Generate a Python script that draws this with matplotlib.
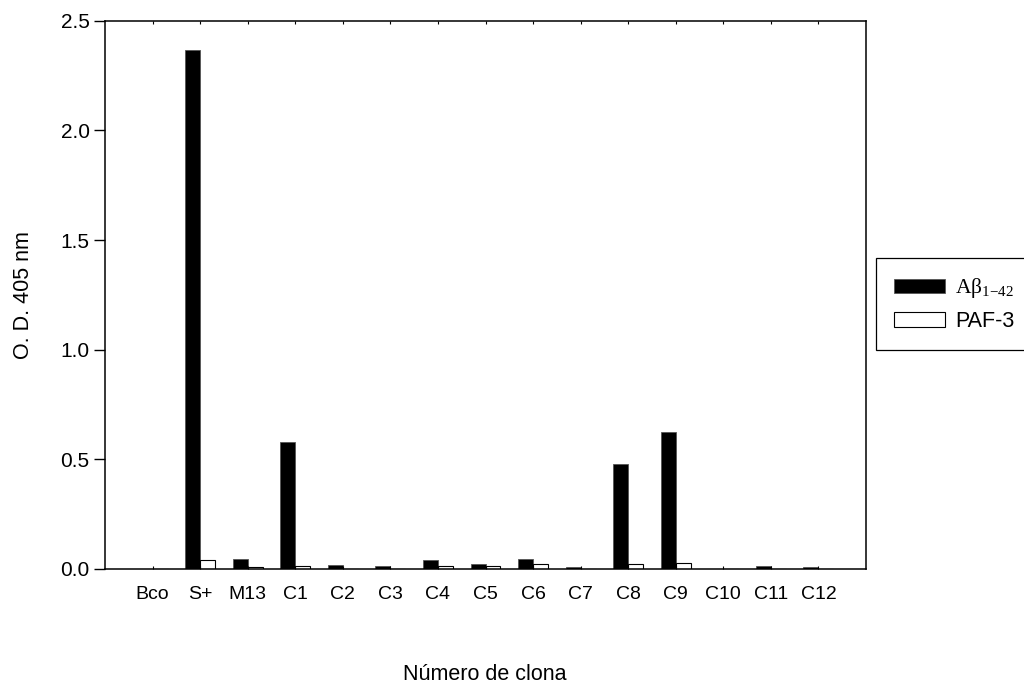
import matplotlib
matplotlib.use("Agg")
import matplotlib.pyplot as plt
import numpy as np

plt.rcParams['font.family'] = ['Liberation Sans', 'DejaVu Sans']
plt.rcParams['mathtext.fontset'] = 'custom'
plt.rcParams['mathtext.rm'] = 'Liberation Serif'
plt.rcParams['mathtext.it'] = 'Liberation Serif:italic'

# datos
clonas = ['Bco', 'S+', 'M13', 'C1', 'C2', 'C3', 'C4', 'C5',
          'C6', 'C7', 'C8', 'C9', 'C10', 'C11', 'C12']
abeta = [0.0, 2.368, 0.046, 0.577, 0.018, 0.013, 0.040, 0.021,
         0.046, 0.009, 0.481, 0.625, 0.002, 0.013, 0.010]
paf3 = [0.0, 0.042, 0.008, 0.015, 0.002, 0.001, 0.014, 0.013,
        0.023, 0.002, 0.021, 0.029, 0.001, 0.002, 0.001]

x = np.arange(1, len(clonas) + 1)
w = 0.315

fig = plt.figure(figsize=(10.24, 6.9), dpi=100)
ax = fig.add_axes([105 / 1024, 1 - 569 / 690, 761 / 1024, 548.3 / 690])

ax.bar(x - w / 2, abeta, w, color='black', edgecolor='#555555', linewidth=0.6,
       label='Aβ$_{\\mathrm{1{-}42}}$')
ax.bar(x + w / 2, paf3, w, color='white', edgecolor='black', linewidth=0.8,
       label='PAF-3')

ax.set_xlim(0, 16)
ax.set_ylim(0, 2.5)
ax.set_yticks([0.0, 0.5, 1.0, 1.5, 2.0, 2.5])
ax.set_yticklabels(['0.0', '0.5', '1.0', '1.5', '2.0', '2.5'])
ax.set_xticks(x)
ax.set_xticklabels(clonas)
ax.tick_params(axis='y', direction='out', length=8, width=1, labelsize=15, pad=3)
ax.tick_params(axis='x', length=0, labelsize=14, pad=12)
ax.tick_params(axis='x', which='both', top=True, direction='in', length=2)
for s in ax.spines.values():
    s.set_linewidth(1.1)

fig.text(24 / 1024, 1 - 295 / 690, 'O. D. 405 nm', fontsize=15.5,
         rotation=90, ha='center', va='center')
fig.text(485 / 1024, 1 - 675 / 690, 'Número de clona', fontsize=15.5,
         ha='center', va='center')

leg = fig.legend(loc='upper left', bbox_to_anchor=(876 / 1024, 1 - 258 / 690),
                 borderaxespad=0, fontsize=15.5, handlelength=2.35, handleheight=0.65,
                 handletextpad=0.47, borderpad=0.85, labelspacing=0.5,
                 fancybox=False, framealpha=1, edgecolor='black')
leg.get_frame().set_linewidth(0.9)
leg.get_texts()[0].set_family('Liberation Serif')

fig.savefig('out.png', dpi=100)
